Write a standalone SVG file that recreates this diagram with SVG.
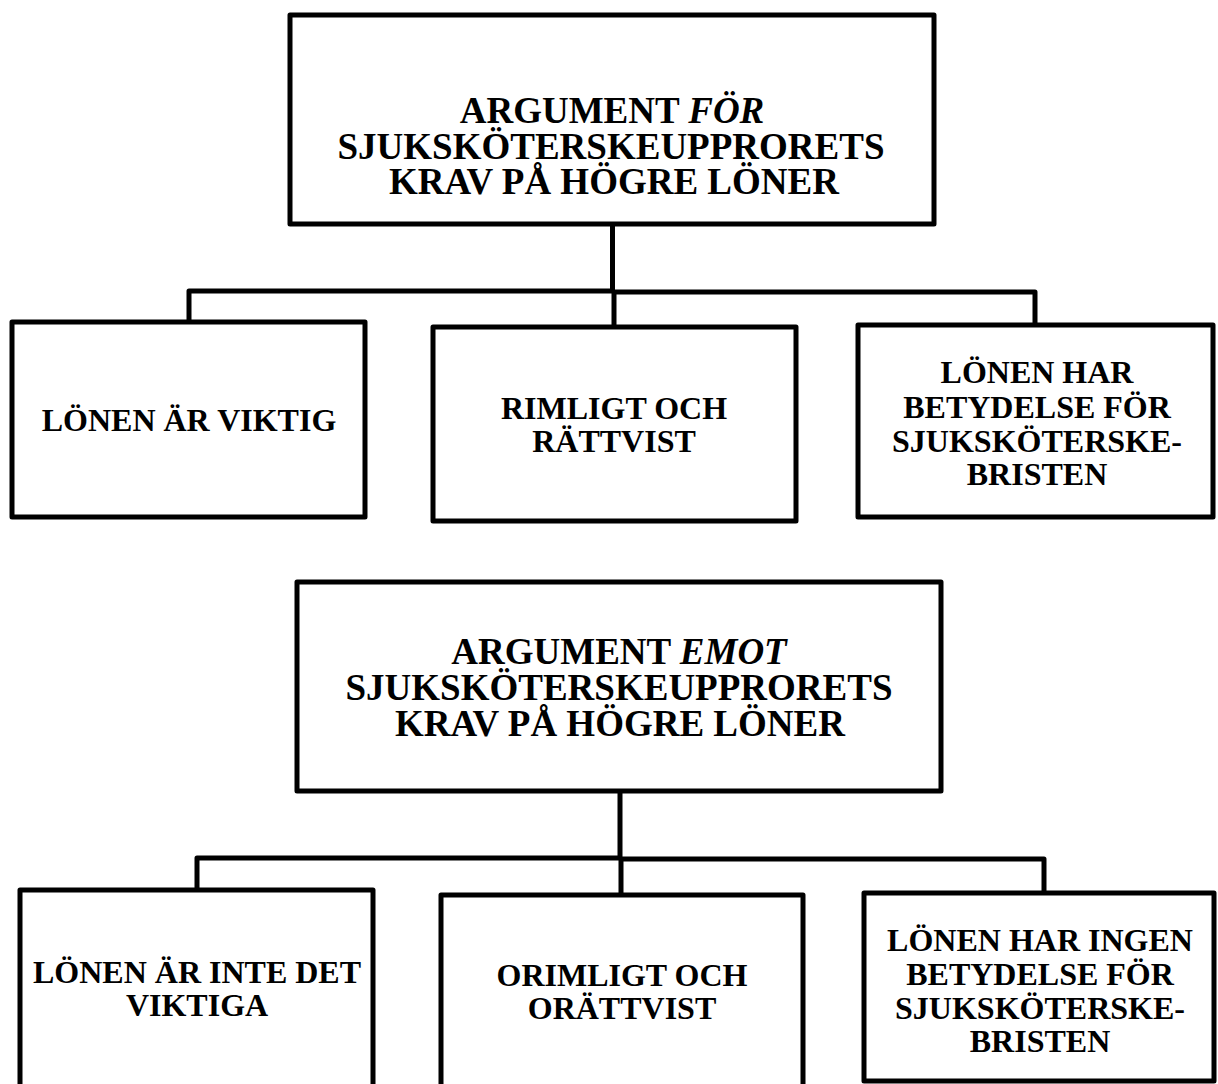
<svg xmlns="http://www.w3.org/2000/svg" width="1218" height="1084" viewBox="0 0 1218 1084">
<style>
.box{fill:#fff;stroke:#000;stroke-width:5;stroke-linejoin:round}
.conn{fill:none;stroke:#000;stroke-width:5;stroke-linejoin:round}
text{font-family:"Liberation Serif","Times New Roman",serif;font-weight:bold;fill:#000;text-anchor:middle}
.h{font-size:37px}
.c{font-size:32px}
.i{font-style:italic}
</style>
<rect width="1218" height="1084" fill="#fff"/>
<g id="connectors">
<path class="conn" d="M612.5 224 V291 M189 323 V291 H614 M614 291 V328 M612 292 H1035 V325"/>
<path class="conn" d="M620 791 V858 M197 890 V858 H621 M621 858 V895 M620 859 H1044 V893"/>
</g>
<g id="for-main">
<rect class="box" x="290" y="15" width="644" height="209"/>
<text class="h" x="612" y="123">ARGUMENT <tspan class="i">FÖR</tspan></text>
<text class="h" x="611" y="159">SJUKSKÖTERSKEUPPRORETS</text>
<text class="h" x="614" y="194">KRAV PÅ HÖGRE LÖNER</text>
</g>
<g id="for-1">
<rect class="box" x="12" y="322" width="353" height="195"/>
<text class="c" x="189" y="431">LÖNEN ÄR VIKTIG</text>
</g>
<g id="for-2">
<rect class="box" x="433" y="327" width="363" height="194"/>
<text class="c" x="614" y="419">RIMLIGT OCH</text>
<text class="c" x="614" y="452">RÄTTVIST</text>
</g>
<g id="for-3">
<rect class="box" x="858" y="325" width="355" height="192"/>
<text class="c" x="1037" y="383">LÖNEN HAR</text>
<text class="c" x="1037" y="418">BETYDELSE FÖR</text>
<text class="c" x="1037" y="452">SJUKSKÖTERSKE-</text>
<text class="c" x="1037" y="485">BRISTEN</text>
</g>
<g id="emot-main">
<rect class="box" x="297" y="582" width="644" height="209"/>
<text class="h" x="619" y="664">ARGUMENT <tspan class="i">EMOT</tspan></text>
<text class="h" x="619" y="700">SJUKSKÖTERSKEUPPRORETS</text>
<text class="h" x="620" y="736">KRAV PÅ HÖGRE LÖNER</text>
</g>
<g id="emot-1">
<rect class="box" x="20" y="890" width="353" height="200"/>
<text class="c" x="197" y="983">LÖNEN ÄR INTE DET</text>
<text class="c" x="197" y="1016">VIKTIGA</text>
</g>
<g id="emot-2">
<rect class="box" x="441" y="895" width="362" height="200"/>
<text class="c" x="622" y="986">ORIMLIGT OCH</text>
<text class="c" x="622" y="1019">ORÄTTVIST</text>
</g>
<g id="emot-3">
<rect class="box" x="864" y="893" width="350" height="188"/>
<text class="c" x="1040" y="951">LÖNEN HAR INGEN</text>
<text class="c" x="1040" y="985">BETYDELSE FÖR</text>
<text class="c" x="1040" y="1019">SJUKSKÖTERSKE-</text>
<text class="c" x="1040" y="1052">BRISTEN</text>
</g>
</svg>
